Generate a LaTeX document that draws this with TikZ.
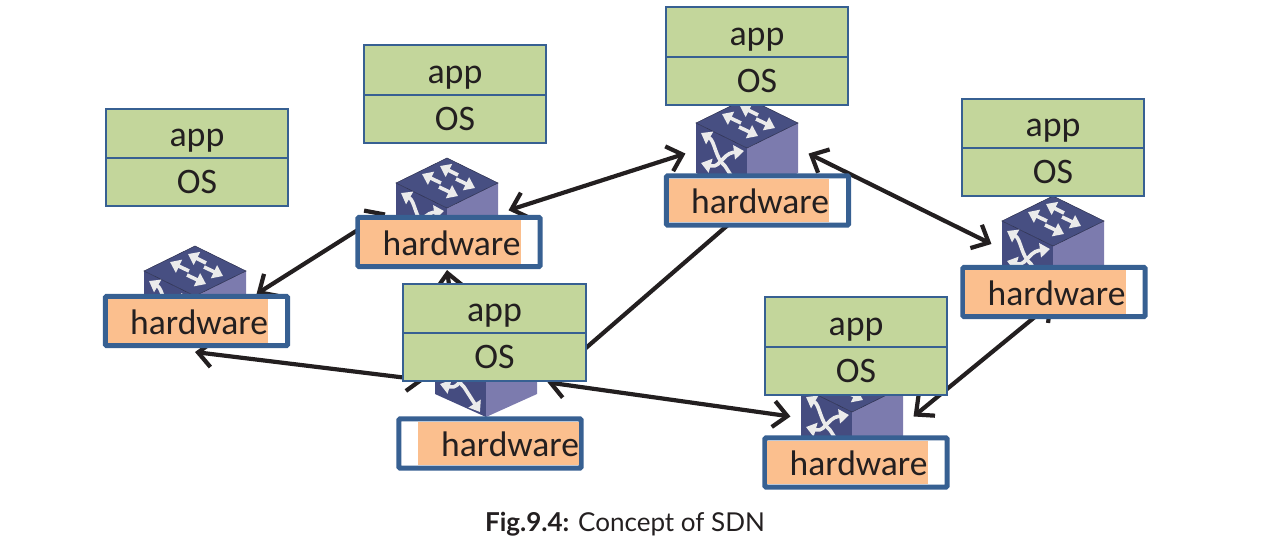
\documentclass[tikz,border=0pt]{standalone}
\usepackage{fontspec}
\setmainfont{Carlito}
\newfontfamily\captionfont{Lato}
\usetikzlibrary{positioning, arrows.meta}
\definecolor{stackblue}{HTML}{376092}
\definecolor{stackgreen}{HTML}{C3D69B}
\definecolor{hwfill}{HTML}{FBBF8E}
\definecolor{swtop}{HTML}{474F82}
\definecolor{swleft}{HTML}{454C80}
\definecolor{swright}{HTML}{7C7BAE}
\definecolor{inkdark}{HTML}{231F20}
\tikzstyle{osbox} = [rectangle, 
minimum width=18.2mm, 
minimum height=4.8mm, 
inner sep=0, outer sep=0,
text centered, 
draw=stackblue, line width=.2mm,
fill=stackgreen, text=inkdark, font=\fontsize{10.2}{12}\selectfont]
\tikzstyle{appbox} = [osbox, minimum height=4.9mm, text height=2.6mm, text depth=0mm]
\tikzstyle{hwbox} = [rectangle, 
minimum width=18.2mm, 
minimum height=4.9mm, 
inner sep=0, outer sep=0,
draw=stackblue, line width=.5mm, rounded corners=.1mm,
fill=white]
\tikzstyle{hwlabel} = [rectangle, 
text width=16mm, 
minimum height=4.3mm, 
inner xsep=0mm, inner ysep=0, outer sep=0,
align=right, 
text height=2.7mm, text depth=.1mm,
fill=hwfill, text=inkdark, font=\fontsize{10.1}{12}\selectfont]
\tikzstyle{switchbox} = [rectangle, 
minimum width=10.3mm, 
minimum height=9.6mm, 
inner sep=0, outer sep=1mm]
\tikzstyle{swarrow} = [white!92!black, line width=.36mm, -{Triangle[length=1mm,width=1.4mm]}]
\tikzstyle{arrow} = [line width=.42mm, draw=inkdark, {Straight Barb[length=1.4mm,width=2.6mm]}-{Straight Barb[length=1.4mm,width=2.6mm]}]
\newcommand{\switchnode}[3]{
\node (#1) [switchbox] at (#2,#3) {};
\begin{scope}[shift={(#2,#3)}]
\fill[swleft] (-51,-23) -- (0,2) -- (0,50) -- (-51,27) -- cycle;
\fill[swright] (51,-23) -- (0,2) -- (0,50) -- (51,27) -- cycle;
\filldraw[fill=swtop, draw=swtop!60!black, line width=.05mm] (0,-48) -- (51,-23) -- (0,2) -- (-51,-23) -- cycle;
\draw[swarrow] (11,-31) -- (-7,-40);
\draw[swarrow] (-6,-23) -- (-25,-32);
\draw[swarrow] (9,-27) -- (28,-18);
\draw[swarrow] (-8,-19) -- (11,-10);
\draw[swarrow, {Triangle[length=1mm,width=1.4mm]}-{Triangle[length=1mm,width=1.4mm]}] (-46,-13) .. controls (-32,-5) and (-32,12) .. (-22,20) -- (-6,45);
\draw[swarrow, {Triangle[length=1mm,width=1.4mm]}-{Triangle[length=1mm,width=1.4mm]}, rounded corners=.4mm] (-46,17) -- (-32,21) -- (-18,7) -- (-3,5);
\end{scope}
}

\begin{document}
\begin{tikzpicture}[x=0.01cm, y=-0.01cm]
\useasboundingbox (0,0) rectangle (1266,554);

\switchnode{sw1}{195}{294}
\switchnode{sw2}{447}{206}
\switchnode{sw3}{747}{146}
\switchnode{sw4}{1053}{244}
\switchnode{sw5}{486}{367}
\switchnode{sw6}{852}{410}

\draw [arrow] (sw1.east) -- (sw2.186);
\draw [arrow] (sw2.-4) -- (sw3.187);
\draw [arrow] (sw3.-7) -- (sw4.west);
\draw [arrow] (sw4.south) -- (sw6.-6);
\draw [arrow] (sw5.-14) -- (sw6.186);
\draw [arrow] (sw5.192) -- (sw1.south);
\draw [arrow] (sw5.120) -- ([yshift=-.6mm]sw2.south);
\draw [arrow] (sw5.-13) -- (sw3.-85);

\node (app1) [appbox] at (197,133.5) {app};
\node (os1) [osbox, below=0mm of app1] {OS};
\node (hw1) [hwbox] at (196.5,321) {};
\node (hwtext1) [hwlabel, anchor=west] at ([xshift=.25mm]hw1.west) {hardware};

\node (app2) [appbox] at (455,70) {app};
\node (os2) [osbox, below=0mm of app2] {OS};
\node (hw2) [hwbox] at (449,242) {};
\node (hwtext2) [hwlabel, anchor=west] at ([xshift=.25mm]hw2.west) {hardware};

\node (app3) [appbox] at (757,32) {app};
\node (os3) [osbox, below=0mm of app3] {OS};
\node (hw3) [hwbox] at (757.5,200.5) {};
\node (hwtext3) [hwlabel, anchor=west] at ([xshift=.25mm]hw3.west) {hardware};

\node (app4) [appbox] at (1053,123.5) {app};
\node (os4) [osbox, below=0mm of app4] {OS};
\node (hw4) [hwbox] at (1054,292) {};
\node (hwtext4) [hwlabel, anchor=west] at ([xshift=.25mm]hw4.west) {hardware};

\node (app5) [appbox] at (494.5,308.5) {app};
\node (os5) [osbox, below=0mm of app5] {OS};
\node (hw5) [hwbox] at (490,443.5) {};
\node (hwtext5) [hwlabel, anchor=east, text width=16.05mm] at ([xshift=-.2mm]hw5.east) {hardware};

\node (app6) [appbox] at (856,322) {app};
\node (os6) [osbox, below=0mm of app6] {OS};
\node (hw6) [hwbox] at (856,462.5) {};
\node (hwtext6) [hwlabel, anchor=west] at ([xshift=.25mm]hw6.west) {hardware};

\node (caption) at (625,524.5) {\captionfont\fontsize{7.4}{9}\selectfont\color{inkdark}\textbf{Fig.9.4:} Concept of SDN};

\end{tikzpicture}
\end{document}
